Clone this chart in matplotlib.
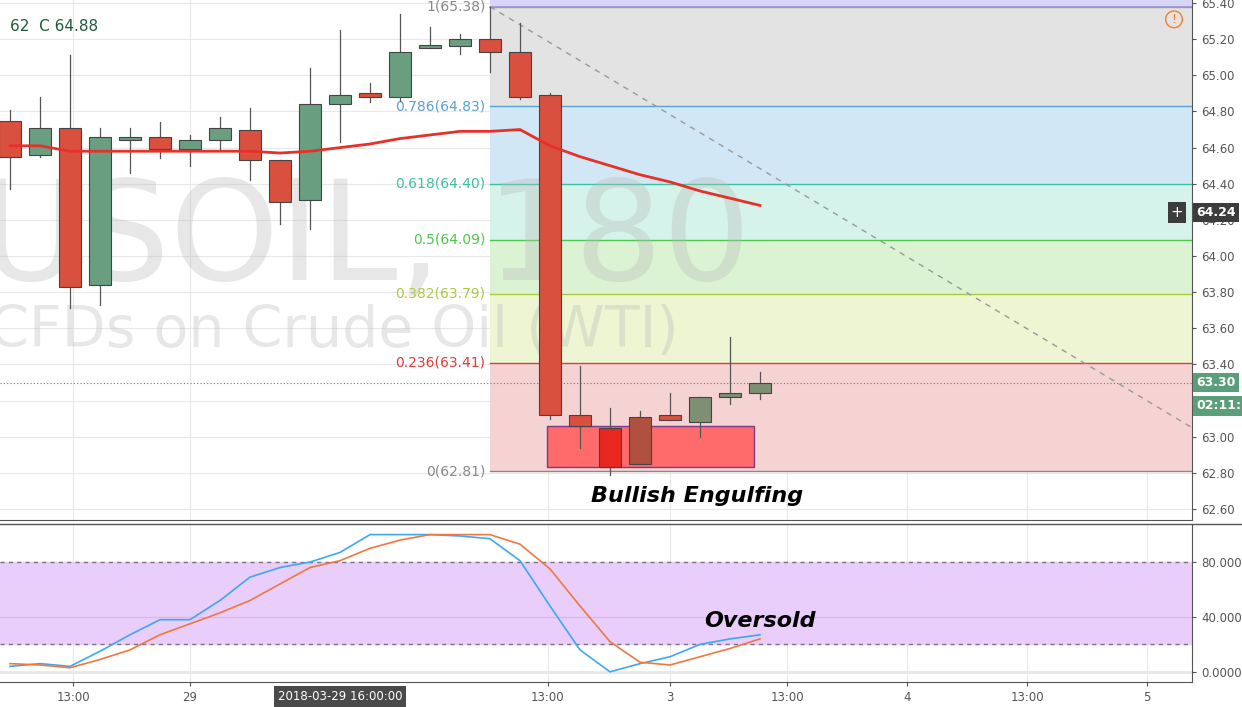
import matplotlib
matplotlib.use("Agg")
import matplotlib.pyplot as plt
from matplotlib.patches import Rectangle
import numpy as np

opens  = [64.75,64.56,64.71,63.84,64.64,64.66,64.59,64.64,64.70,64.53,64.31,64.84,64.90,64.88,65.15,65.16,65.20,65.13,64.89,63.12,63.05,62.85,63.12,63.08,63.22,63.24]
closes = [64.55,64.71,63.83,64.66,64.66,64.59,64.64,64.71,64.53,64.30,64.84,64.89,64.88,65.13,65.17,65.20,65.13,64.88,63.12,63.06,62.83,63.11,63.09,63.22,63.24,63.30]
highs  = [64.81,64.88,65.11,64.71,64.71,64.74,64.67,64.77,64.82,64.53,65.04,65.25,64.96,65.34,65.27,65.23,65.38,65.29,64.90,63.39,63.16,63.14,63.24,63.22,63.55,63.36]
lows   = [64.37,64.55,63.71,63.73,64.46,64.54,64.50,64.59,64.42,64.18,64.15,64.63,64.85,64.86,65.15,65.12,65.02,64.87,63.10,62.94,62.79,62.85,63.09,63.00,63.18,63.21]
ema    = [64.61,64.61,64.58,64.58,64.58,64.58,64.58,64.58,64.58,64.57,64.58,64.60,64.62,64.65,64.67,64.69,64.69,64.70,64.61,64.55,64.50,64.45,64.41,64.36,64.32,64.28]
stoch_k = [4,6,4,15,27,38,38,52,69,76,80,87,100,100,100,99,97,81,48,16,0,6,11,20,24,27]
stoch_d = [6,5,3,9,16,27,35,43,52,64,76,81,90,96,100,100,100,93,75,48,22,7,5,11,17,24]
fib_ratios = ["1","0.786","0.618","0.5","0.382","0.236","0"]
fib_levels = [65.38,64.83,64.40,64.09,63.79,63.41,62.81]
fib_line_colors = ["#9e9e9e","#5aa0d0","#3cc0a0","#4cc84c","#a8cc40","#e03a3a","#888888"]
fib_fill_colors = ["#e3e3e3","#d2e7f5","#d5f3ea","#dbf3d2","#edf5d2","#f5d3d3"]
price_ticks = [62.60,62.80,63.00,63.20,63.40,63.60,63.80,64.00,64.20,64.40,64.60,64.80,65.00,65.20,65.40]
time_pos = [2.1,6,17.93,22,25.9,29.9,33.9,37.9]
time_labels = ["13:00","29","13:00","3","13:00","4","13:00","5"]
stoch_ticks = [0,40,80]
stoch_labels = ["0.0000","40.0000","80.0000"]

W, H = 1242, 707
fig = plt.figure(figsize=(W/100, H/100), dpi=100)
fig.patch.set_facecolor("white")
ax = fig.add_axes([0, 1-520/H, 1192/W, 520/H])
ax2 = fig.add_axes([0, 1-682/H, 1192/W, 157/H])
xmin, xmax = -0.333, 39.4
for a in (ax, ax2):
    a.set_xlim(xmin, xmax)
    a.set_facecolor("white")
    for s in ("top", "left"):
        a.spines[s].set_visible(False)
    a.spines["right"].set_color("#555555")
    a.spines["bottom"].set_color("#555555")
    a.yaxis.tick_right()
    a.tick_params(axis="y", colors="#555555", labelsize=8.5, length=3)
    a.tick_params(axis="x", colors="#555555", labelsize=8.5, length=3)
ax.set_ylim(62.539, 65.417)
ax2.set_ylim(-7.4, 107)

for p in price_ticks:
    ax.axhline(p, color="#e8e8e8", lw=0.8, zorder=0)
for t in time_pos:
    ax.axvline(t, color="#e8e8e8", lw=0.8, zorder=0)
    ax2.axvline(t, color="#e8e8e8", lw=0.8, zorder=0)
ax.set_yticks(price_ticks)
ax.set_yticklabels([f"{p:.2f}" for p in price_ticks])
ax.set_xticks([])

ax.text(-1.0, 64.08, "USOIL, 180", fontsize=100, color="#bbbbbb", alpha=0.35, va="center", ha="left", zorder=4)
ax.text(-0.7, 63.58, "CFDs on Crude Oil (WTI)", fontsize=41, color="#bbbbbb", alpha=0.35, va="center", ha="left", zorder=4)

x0 = 16
for i in range(6):
    ax.add_patch(Rectangle((x0, fib_levels[i+1]), xmax-x0, fib_levels[i]-fib_levels[i+1],
                           facecolor=fib_fill_colors[i], edgecolor="none", zorder=1))
ax.add_patch(Rectangle((x0, fib_levels[0]), xmax-x0, 0.1, facecolor="#d8d4f5", edgecolor="none", zorder=1))
for i, lev in enumerate(fib_levels):
    ax.plot([x0, xmax], [lev, lev], color=fib_line_colors[i], lw=1, zorder=2)
    ax.text(x0-0.15, lev, f"{fib_ratios[i]}({lev:.2f})", color=fib_line_colors[i] if i not in (0, 6) else "#888888",
            fontsize=10, ha="right", va="center", zorder=5)
ax.plot([x0, xmax], [fib_levels[0], fib_levels[0]], color="#9a94d8", lw=1.2, zorder=2)
ax.plot([x0, xmax], [65.38, 63.05], color="#999999", lw=1, ls=(0, (4, 4)), zorder=3)

ax.add_patch(Rectangle((17.9, 62.83), 24.8-17.9, 63.06-62.83, facecolor="#ff6b6b", edgecolor="#7a3a8a", lw=1, zorder=3))
ax.axhline(63.30, color="#4a8a6a", lw=0.8, ls=(0, (1, 2)), zorder=2)

for i in range(len(opens)):
    o, c, h, l = opens[i], closes[i], highs[i], lows[i]
    up = c >= o
    col = "#6a9e80" if up else "#d9503f"
    if i >= 19 and up:
        col = "#7f8f74"
    if i == 20:
        col = "#e8281e"
    if i == 21:
        col = "#b0503f"
    ax.plot([i, i], [l, h], color="#555555", lw=0.9, zorder=5)
    ax.add_patch(Rectangle((i-0.37, min(o, c)), 0.74, max(abs(c-o), 0.008), facecolor=col,
                           edgecolor="#444444", lw=0.8, zorder=6))

ax.plot(range(len(ema)), ema, color="#e8302a", lw=2, zorder=6)

ax.text(0, 65.27, "62  C 64.88", color="#1e5a3a", fontsize=11, va="center", ha="left")
ax.text(22.9, 62.67, "Bullish Engulfing", fontsize=16, fontweight="bold", fontstyle="italic", ha="center", va="center", zorder=7)

ax.text(39.55, 64.24, "64.24", fontsize=9, color="white", fontweight="bold",
        va="center", ha="left", bbox=dict(boxstyle="square,pad=0.25", fc="#3c3c3c", ec="none"), clip_on=False, zorder=8)
ax.text(38.9, 64.24, "+", fontsize=11, color="white", va="center", ha="center",
        bbox=dict(boxstyle="square,pad=0.2", fc="#3c3c3c", ec="none"), zorder=8)
ax.text(39.55, 63.30, "63.30", fontsize=9, color="white", fontweight="bold", va="center", ha="left",
        bbox=dict(boxstyle="square,pad=0.25", fc="#5a9e7a", ec="none"), clip_on=False, zorder=8)
ax.text(39.55, 63.17, "02:11:5", fontsize=9, color="white", fontweight="bold", va="center", ha="left",
        bbox=dict(boxstyle="square,pad=0.25", fc="#5a9e7a", ec="none"), clip_on=False, zorder=8)
ax.text(38.8, 65.31, "!", fontsize=9, color="#f08030", va="center", ha="center",
        bbox=dict(boxstyle="circle,pad=0.15", fc="none", ec="#f08030"))

ax2.axhspan(20, 80, color="#e9cdfb", zorder=0)
ax2.axhline(80, color="#777777", ls=(0, (3, 3)), lw=1)
ax2.axhline(20, color="#777777", ls=(0, (3, 3)), lw=1)
ax2.axhline(40, color="#d0b8e8", lw=0.8)
ax2.axhline(0, color="#e8e8e8", lw=2)
ax2.plot(range(len(stoch_k)), stoch_k, color="#3ea8f0", lw=1.2, zorder=3)
ax2.plot(range(len(stoch_d)), stoch_d, color="#f07840", lw=1.2, zorder=3)
ax2.set_yticks(stoch_ticks)
ax2.set_yticklabels(stoch_labels)
ax2.set_xticks(time_pos)
ax2.set_xticklabels(time_labels)
ax2.text(25.0, 37, "Oversold", fontsize=16, fontweight="bold", fontstyle="italic", ha="center", va="center", zorder=5)
ax2.text(11, -18, "2018-03-29 16:00:00", fontsize=8.5, color="white", ha="center", va="center",
         bbox=dict(boxstyle="square,pad=0.35", fc="#4a4a4a", ec="none"), clip_on=False)
fig.add_artist(plt.Line2D([0, 1], [1-524/H, 1-524/H], color="#555555", lw=1))

fig.savefig("out.png", dpi=100)
